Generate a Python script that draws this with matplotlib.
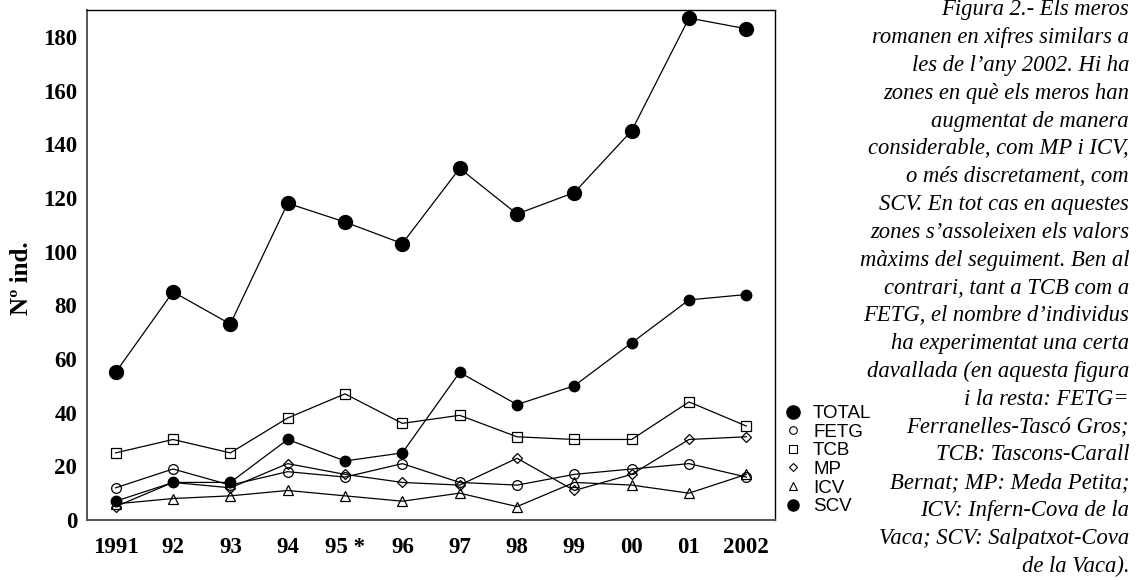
import matplotlib
matplotlib.use("Agg")
from matplotlib import pyplot as plt
from matplotlib.lines import Line2D

# Anys de seguiment
years = ['1991', '92', '93', '94', '95 *', '96', '97', '98', '99', '00', '01', '2002']

# Nombre d'individus per zona
total = [55, 85, 73, 118, 111, 103, 131, 114, 122, 145, 187, 183]
fetg = [12, 19, 13, 18, 16, 21, 14, 13, 17, 19, 21, 16]
tcb = [25, 30, 25, 38, 47, 36, 39, 31, 30, 30, 44, 35]
mp = [5, 14, 12, 21, 17, 14, 13, 23, 11, 17, 30, 31]
icv = [6, 8, 9, 11, 9, 7, 10, 5, 14, 13, 10, 17]
scv = [7, 14, 14, 30, 22, 25, 55, 43, 50, 66, 82, 84]

yticks = [0, 20, 40, 60, 80, 100, 120, 140, 160, 180]

caption = [
    'Figura 2.- Els meros',
    'romanen en xifres similars a',
    'les de l’any 2002. Hi ha',
    'zones en què els meros han',
    'augmentat de manera',
    'considerable, com MP i ICV,',
    'o més discretament, com',
    'SCV. En tot cas en aquestes',
    'zones s’assoleixen els valors',
    'màxims del seguiment. Ben al',
    'contrari, tant a TCB com a',
    'FETG, el nombre d’individus',
    'ha experimentat una certa',
    'davallada (en aquesta figura',
    'i la resta: FETG=',
    'Ferranelles-Tascó Gros;',
    'TCB: Tascons-Carall',
    'Bernat; MP: Meda Petita;',
    'ICV: Infern-Cova de la',
    'Vaca; SCV: Salpatxot-Cova',
    'de la Vaca).',
]

W, H = 1137, 580
fig = plt.figure(figsize=(W / 100, H / 100), dpi=100)
ax = fig.add_axes([87 / W, 60 / H, 688 / W, 510 / H])

x = list(range(len(years)))
lw = 0.9
ax.plot(x, icv, color='black', lw=lw, marker='^', ms=7, mfc='none', mec='black', mew=0.9)
ax.plot(x, mp, color='black', lw=lw, marker='D', ms=5.5, mfc='none', mec='black', mew=0.9)
ax.plot(x, fetg, color='black', lw=lw, marker='o', ms=7, mfc='none', mec='black', mew=0.9)
ax.plot(x, tcb, color='black', lw=lw, marker='s', ms=7, mfc='none', mec='black', mew=0.9)
ax.plot(x, scv, color='black', lw=lw, marker='o', ms=7.5, mfc='black', mec='black')
ax.plot(x, total, color='black', lw=lw, marker='o', ms=10, mfc='black', mec='black')

ax.set_xlim(-0.5, len(years) - 0.5)
ax.set_ylim(0, 190)
ax.set_xticks(x)
ax.set_xticklabels(years)
ax.set_yticks(yticks)
ax.tick_params(length=0)
ax.tick_params(axis='x', pad=12)
ax.tick_params(axis='y', pad=7)
for lab in ax.get_xticklabels() + ax.get_yticklabels():
    lab.set_fontfamily('Liberation Serif')
    lab.set_fontweight('bold')
    lab.set_fontsize(16.5)

for side in ['left', 'bottom']:
    ax.spines[side].set_color('#555555')
    ax.spines[side].set_linewidth(1.4)
for side in ['top', 'right']:
    ax.spines[side].set_color('black')
    ax.spines[side].set_linewidth(1.0)

fig.text(21 / W, 1 - 278 / H, 'Nº ind.', rotation=90, ha='center', va='center',
         fontfamily='Liberation Serif', fontweight='bold', fontsize=18)

handles = [
    Line2D([], [], ls='none', marker='o', ms=9.5, mfc='black', mec='black'),
    Line2D([], [], ls='none', marker='o', ms=5.5, mfc='none', mec='black', mew=0.8),
    Line2D([], [], ls='none', marker='s', ms=5.5, mfc='none', mec='black', mew=0.8),
    Line2D([], [], ls='none', marker='D', ms=4.5, mfc='none', mec='black', mew=0.8),
    Line2D([], [], ls='none', marker='^', ms=6, mfc='none', mec='black', mew=0.8),
    Line2D([], [], ls='none', marker='o', ms=8, mfc='black', mec='black'),
]
labels = ['TOTAL', 'FETG', 'TCB', 'MP', 'ICV', 'SCV']
fig.legend(handles, labels, loc='upper left', bbox_to_anchor=(784 / W, 1 - 405 / H),
           frameon=False, handlelength=1.0, handletextpad=0.55, labelspacing=0.08,
           borderpad=0, borderaxespad=0,
           prop={'family': 'Liberation Sans', 'size': 13.5})

line_h = 27.8
for i, line in enumerate(caption):
    fig.text(1129 / W, 1 - (10 + i * line_h) / H, line, ha='right', va='center',
             fontfamily='Liberation Serif', fontstyle='italic', fontsize=16.3)

fig.savefig('out.png', dpi=100)
